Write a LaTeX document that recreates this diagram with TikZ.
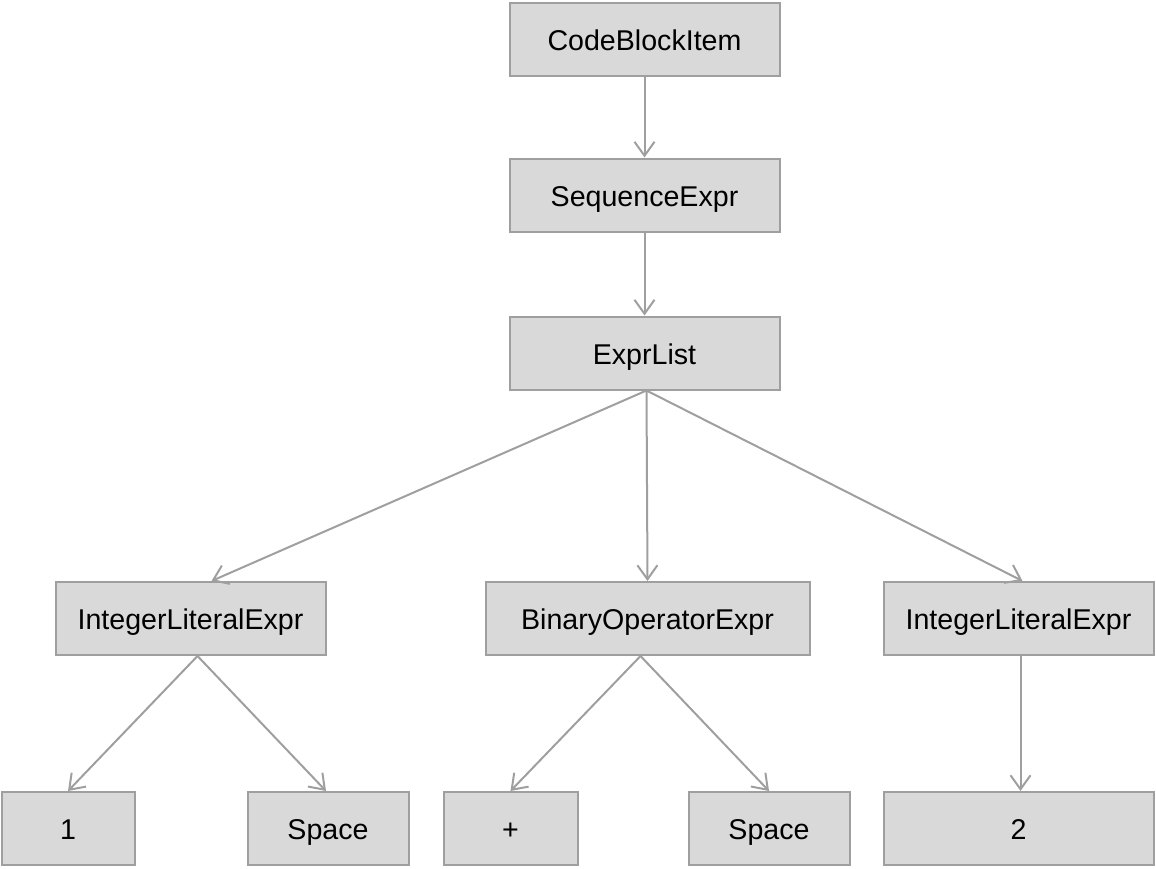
\documentclass[tikz,border=0pt]{standalone}
\usepackage{fontspec}
\setmainfont{Liberation Sans}
\usetikzlibrary{arrows.meta}

\begin{document}
\begin{tikzpicture}[x=0.5pt,y=-0.5pt]
					\tikzstyle{syn}=[draw=gray!75,fill=gray!30,line width=1pt,inner sep=0pt,text height=12pt,text depth=1pt,minimum height=36.5pt,font=\fontsize{14.3}{17}\selectfont]
					\tikzstyle{edge}=[draw=gray!75,line width=1pt,-{Straight Barb[length=7pt,width=10pt]}]
					\useasboundingbox (0,0) rectangle (1156,868);
					\node (item) [syn, minimum width=135pt] at (644.5,39) {CodeBlockItem};
					\node (seq) [syn, minimum width=135pt] at (644.5,195) {SequenceExpr};
					\node (list) [syn, minimum width=135pt] at (644.5,353) {ExprList};
					\node (lit1) [syn, minimum width=135pt] at (190.5,618.5) {IntegerLiteralExpr};
					\node (binop) [syn, minimum width=162pt] at (647.5,618.5) {BinaryOperatorExpr};
					\node (lit2) [syn, minimum width=135pt] at (1018.5,618.5) {IntegerLiteralExpr};
					\node (one) [syn, minimum width=66.5pt] at (68,828.5) {1};
					\node (sp1) [syn, minimum width=80.5pt] at (328,828.5) {Space};
					\node (plus) [syn, minimum width=67pt] at (510.5,828.5) {+};
					\node (sp2) [syn, minimum width=80.5pt] at (769,828.5) {Space};
					\node (two) [syn, minimum width=135pt] at (1018.5,828.5) {2};
					\draw[edge] (item.south) -- (seq.north);
					\draw[edge] (seq.south) -- (list.north);
					\draw[edge] ([xshift=1pt]list.south) -- ([xshift=10.5pt]lit1.north);
					\draw[edge] ([xshift=1pt]list.south) -- (binop.north);
					\draw[edge] ([xshift=1pt]list.south) -- ([xshift=2pt]lit2.north);
					\draw[edge] ([xshift=3.5pt]lit1.south) -- (one.north);
					\draw[edge] ([xshift=3.5pt]lit1.south) -- ([xshift=-1pt]sp1.north);
					\draw[edge] ([xshift=-3.5pt]binop.south) -- (plus.north);
					\draw[edge] ([xshift=-3.5pt]binop.south) -- (sp2.north);
					\draw[edge] ([xshift=1pt]lit2.south) -- ([xshift=1pt]two.north);
				\end{tikzpicture}
\end{document}
